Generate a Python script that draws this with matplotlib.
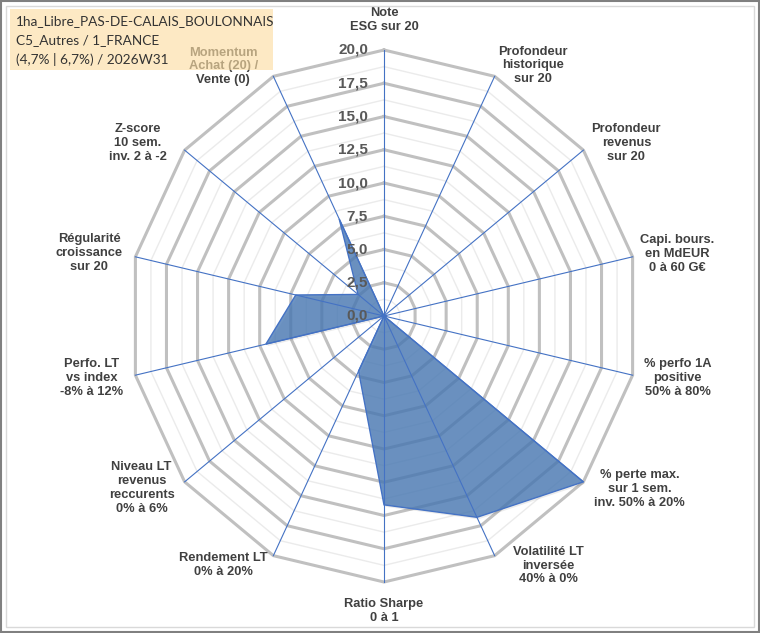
import numpy as np
import matplotlib
matplotlib.use("Agg")
import matplotlib.pyplot as plt
from matplotlib.patches import Rectangle, Polygon

# ---------------- data ----------------
categories = [
    "Note\nESG sur 20",
    "Profondeur\nhistorique\nsur 20",
    "Profondeur\nrevenus\nsur 20",
    "Capi. bours.\nen MdEUR\n0 à 60 G€",
    "% perfo 1A\npositive\n50% à 80%",
    "% perte max.\nsur 1 sem.\ninv. 50% à 20%",
    "Volatilité LT\ninversée\n40% à 0%",
    "Ratio Sharpe\n0 à 1",
    "Rendement LT\n0% à 20%",
    "Niveau LT\nrevenus\nreccurents\n0% à 6%",
    "Perfo. LT\nvs index\n-8% à 12%",
    "Régularité\ncroissance\nsur 20",
    "Z-score\n10 sem.\ninv. 2 à -2",
    "Momentum\nAchat (20) /\nVente (0)",
]
values = [0, 0, 0, 0, 0, 20.0, 16.8, 14.2, 4.6, 0, 9.5, 7.1, 2.6, 8.1]
major_ticks = [0, 2.5, 5, 7.5, 10, 12.5, 15, 17.5, 20]
tick_labels = ["0,0", "2,5", "5,0", "7,5", "10,0", "12,5", "15,0", "17,5", "20,0"]
minor_ticks = [1.25, 3.75, 6.25, 8.75, 11.25, 13.75, 16.25, 18.75]
title_lines = ["1ha_Libre_PAS-DE-CALAIS_BOULONNAIS",
               "C5_Autres / 1_FRANCE",
               "(4,7% | 6,7%) / 2026W31"]
r_max = 20

# ---------------- layout ----------------
W, H = 760, 633
CX, CY = 384, 316          # centre in pixels (y from top)
SX, SY = 255 / r_max, 266 / r_max   # pixels per unit

fig = plt.figure(figsize=(W / 100, H / 100), dpi=100)
ax = fig.add_axes([0, 0, 1, 1])
ax.set_xlim(-CX / SX, (W - CX) / SX)
ax.set_ylim(-(H - CY) / SY, CY / SY)
ax.axis("off")

n = len(categories)
theta = np.arange(n) * 2 * np.pi / n


def xy(r, t):
    r = np.asarray(r, dtype=float)
    return r * np.sin(t), r * np.cos(t)


# rings
for r in minor_ticks:
    x, y = xy(np.full(n + 1, r), np.append(theta, theta[0]))
    ax.plot(x, y, color="#EBEBEB", lw=1.0, zorder=1)
for r in major_ticks[1:]:
    x, y = xy(np.full(n + 1, r), np.append(theta, theta[0]))
    ax.plot(x, y, color="#C0C0C0", lw=2.2, zorder=2, solid_joinstyle="miter")

# data polygon (with a faint shadow)
px, py = xy(values, theta)
pts = np.column_stack([px, py])
ax.add_patch(Polygon(pts + np.array([0.12, -0.15]), closed=True,
                     facecolor="#000000", alpha=0.08, edgecolor="none", zorder=2.5))
ax.add_patch(Polygon(pts, closed=True,
                     facecolor="#4A7AB5", alpha=0.8, edgecolor="none", zorder=3))
ax.add_patch(Polygon(pts, closed=True,
                     facecolor="none", edgecolor="#4472C4", lw=1.0, zorder=5))

# spokes
for t in theta:
    x, y = xy([0, r_max], np.array([t, t]))
    ax.plot(x, y, color="#4472C4", lw=0.8, zorder=4)

# tick labels
for r, lab in zip(major_ticks, tick_labels):
    ax.annotate(lab, xy=(0, r), xytext=(-16, 0), textcoords="offset pixels",
                ha="right", va="center", fontsize=11, fontweight="bold",
                color="#595959", family="Liberation Sans", zorder=6)

# category labels (offsets in pixels from outer vertex, image y downward)
label_offsets = [(0, -30), (38, -11), (43, -7), (45, -3), (45, 3), (56, 7), (54, 10),
                 (0, 29), (-50, 9), (-43, 6), (-44, 3), (-46, -4), (-47, -7), (-50, -10)]
for lab, t, (dx, dy) in zip(categories, theta, label_offsets):
    vx, vy = xy(r_max, t)
    ax.annotate(lab, xy=(vx, vy), xytext=(dx, -dy), textcoords="offset pixels",
                ha="center", va="center", multialignment="center",
                fontsize=9.3, fontweight="bold", color="#404040",
                family="Liberation Sans", linespacing=1.2, zorder=6)

# title box (semi-transparent, over the chart)
fig.patches.append(Rectangle((10 / W, 1 - 70 / H), 263 / W, 61 / H,
                             transform=fig.transFigure, facecolor=(0.988, 0.866, 0.639),
                             alpha=0.64, edgecolor="none", zorder=10))
for i, line in enumerate(title_lines):
    fig.text(16 / W, 1 - (21 + 19.5 * i) / H, line, ha="left", va="center",
             fontsize=9.8, color="#333333", family="Lato", zorder=11)

# frame
fig.patches.append(Rectangle((1 / W, 1 / H), (W - 2) / W, (H - 2) / H,
                             transform=fig.transFigure, facecolor="none",
                             edgecolor="#808080", lw=1.5, zorder=12))
fig.patches.append(Rectangle((6 / W, 6 / H), (W - 12) / W, (H - 12) / H,
                             transform=fig.transFigure, facecolor="none",
                             edgecolor="#D9D9D9", lw=1.0, zorder=12))

fig.savefig("out.png", dpi=100)
